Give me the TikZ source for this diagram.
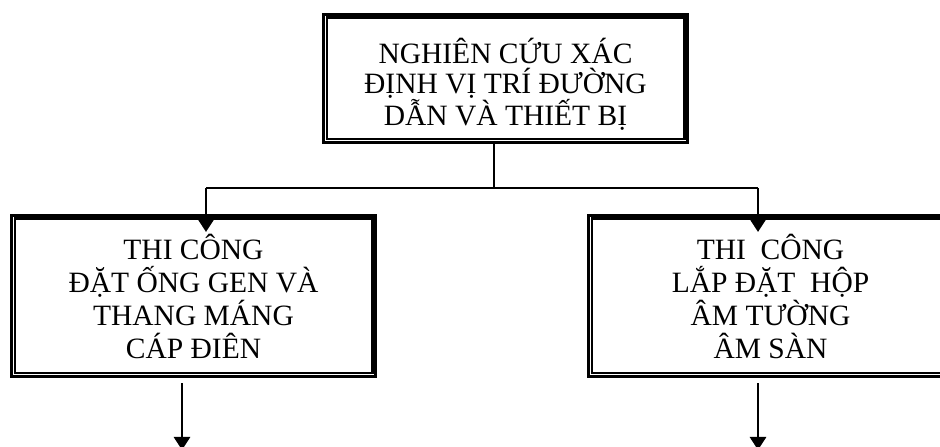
\documentclass[tikz,border=0pt]{standalone}
\usepackage{fontspec}
\setmainfont{Liberation Serif}
\usetikzlibrary{arrows.meta,calc}
\begin{document}
\begin{tikzpicture}[x=1pt,y=1pt,
  frame/.style={draw=black,line width=3.5pt,minimum width=364pt,inner sep=0pt,
    align=center,font=\fontsize{29.5}{33}\selectfont},
  txt/.style={inner sep=0pt,align=center,font=\fontsize{29.5}{29.7}\selectfont},
  innerframe/.style={draw=black,line width=2.5pt},
  conn/.style={draw=black,line width=2.8pt},
  arr/.style={conn,-{Triangle[length=13pt,width=16pt]}}]
\useasboundingbox (0,0) rectangle (940,447);
\node[frame,minimum height=128pt] (t) at (505.5,368.5) {};
\node[txt] (tt) at ([yshift=-6pt]t.center)
  {NGHIÊN CỨU XÁC\\ĐỊNH VỊ TRÍ ĐƯỜNG\\DẪN VÀ THIẾT BỊ};
\node[frame,minimum height=161pt] (l) at (193.5,151)
  {THI CÔNG\\ĐẶT ỐNG GEN VÀ\\THANG MÁNG\\CÁP ĐIÊN};
\node[frame,minimum height=161pt] (r) at (770.5,151)
  {THI\ \ CÔNG\\LẮP ĐẶT\ \ HỘP\\ÂM TƯỜNG\\ÂM SÀN};
\foreach \n in {t,l,r}
  \draw[innerframe] ([shift={(5,-5)}]\n.north west) rectangle ([shift={(-5,5)}]\n.south east);
\coordinate (jt) at (494,259);
\coordinate (jl) at (206,259);
\coordinate (jr) at (758,259);
\coordinate (la) at (206,215);
\coordinate (ra) at (758,215);
\coordinate (lo) at (182,-3);
\coordinate (ro) at (758,-3);
\draw[conn] (t.south -| jt) -- (jt);
\draw[conn] (jl) -- (jr);
\draw[arr] (jl) -- (la);
\draw[arr] (jr) -- (ra);
\draw[arr] ([yshift=-5pt]l.south -| lo) -- (lo);
\draw[arr] ([yshift=-5pt]r.south -| ro) -- (ro);
\end{tikzpicture}
\end{document}
